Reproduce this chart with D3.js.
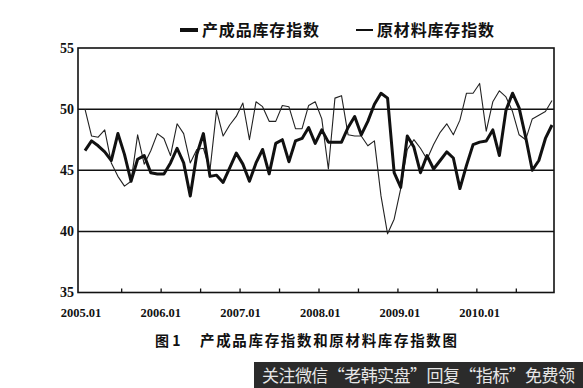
<!DOCTYPE html>
<html>
<head>
<meta charset="utf-8">
<script src="https://cdn.jsdelivr.net/npm/d3@7"></script>
<style>
  body { margin: 0; background: #fff; }
  svg { display: block; }
</style>
</head>
<body>
<div id="chart"></div>
<script>
// month labels shown on the x axis
const yearLabels = ["2005.01", "2006.01", "2007.01", "2008.01", "2009.01", "2010.01"];
const yTicks = [35, 40, 45, 50, 55];
const gridValues = [40, 45, 50];

// 产成品库存指数, 2005.01 - 2010.12
const finishedGoods = [
  46.6, 47.4, 47.0, 46.5, 45.8, 48.0, 46.3, 44.1, 45.9, 46.2, 44.8, 44.7,
  44.7, 45.6, 46.8, 45.6, 42.9, 46.3, 48.0, 44.5, 44.6, 44.0, 45.2, 46.4,
  45.5, 44.1, 45.6, 46.7, 44.7, 47.2, 47.5, 45.7, 47.4, 47.6, 48.5, 47.2,
  48.3, 47.3, 47.3, 47.3, 48.5, 49.4, 47.9, 49.0, 50.4, 51.3, 50.9, 44.8,
  43.6, 47.8, 46.9, 44.8, 46.2, 45.1, 45.8, 46.5, 46.0, 43.5, 45.4, 47.1,
  47.3, 47.4, 48.3, 46.2, 49.9, 51.3, 50.1, 47.7, 45.0, 45.8, 47.6, 48.7
];
// 原材料库存指数, 2005.01 - 2010.12
const rawMaterials = [
  50.0, 47.8, 47.7, 48.3, 45.6, 44.5, 43.7, 44.1, 47.9, 45.5, 46.6, 48.0,
  47.6, 46.2, 48.8, 48.0, 45.6, 46.7, 46.8, 45.0, 49.9, 47.8, 48.7, 49.4,
  50.5, 47.5, 50.6, 50.2, 49.0, 49.0, 50.3, 50.2, 48.4, 48.4, 50.3, 50.6,
  49.2, 45.1, 50.9, 51.1, 47.9, 47.8, 47.8, 47.0, 47.4, 42.9, 39.8, 41.0,
  43.5, 46.7, 47.5, 46.8, 45.9, 47.1, 48.1, 48.8, 47.9, 49.1, 51.3, 51.3,
  52.1, 48.2, 50.6, 51.5, 51.0, 49.8, 47.9, 47.5, 49.2, 49.5, 49.8, 50.7
];
const seriesNames = ["产成品库存指数", "原材料库存指数"];

const width = 583, height = 388;
const frame = {left: 78, right: 554, top: 48, bottom: 292.5};

const svg = d3.select("#chart")
  .append("svg")
  .attr("width", width)
  .attr("height", height);

const x = d3.scaleLinear()
  .domain([0, finishedGoods.length - 1])
  .range([85, 552]);

const y = d3.scaleLinear()
  .domain([35, 55])
  .range([frame.bottom, frame.top]);

// frame
svg.append("rect")
  .attr("x", frame.left)
  .attr("y", frame.top)
  .attr("width", frame.right - frame.left)
  .attr("height", frame.bottom - frame.top)
  .attr("fill", "none")
  .attr("stroke", "#111")
  .attr("stroke-width", 1.6);

// horizontal grid lines
svg.selectAll(".grid")
  .data(gridValues)
  .enter()
  .append("line")
  .attr("x1", frame.left)
  .attr("x2", frame.right)
  .attr("y1", d => y(d))
  .attr("y2", d => y(d))
  .attr("stroke", "#111")
  .attr("stroke-width", 1.5);

// y axis labels
const yAxis = d3.axisLeft(y)
  .tickValues(yTicks)
  .tickSize(0)
  .tickPadding(4);
const yg = svg.append("g")
  .attr("transform", "translate(" + frame.left + ",0)")
  .call(yAxis);
yg.select(".domain").remove();
yg.selectAll("text")
  .attr("font-family", "Liberation Serif, serif")
  .attr("font-weight", "bold")
  .attr("font-size", 14)
  .attr("fill", "#111");

// x axis: small ticks every half year, labels at each january
const halfYears = d3.range(5.5, finishedGoods.length - 1, 6);
const xAxis = d3.axisTop(x)
  .tickValues(halfYears)
  .tickSize(4)
  .tickFormat("");
const xg = svg.append("g")
  .attr("transform", "translate(0," + frame.bottom + ")")
  .call(xAxis);
xg.select(".domain").remove();
xg.selectAll("line").attr("stroke", "#111").attr("stroke-width", 1.3);

svg.selectAll(".xlabel")
  .data(yearLabels)
  .enter()
  .append("text")
  .attr("x", (d, i) => x(i * 12) - 4 + i * 0.8)
  .attr("y", 317)
  .attr("text-anchor", "middle")
  .attr("font-family", "Liberation Serif, serif")
  .attr("font-weight", "bold")
  .attr("font-size", 12.5)
  .attr("fill", "#111")
  .text(d => d);

// the two lines
const line = d3.line()
  .x((d, i) => x(i))
  .y(d => y(d));

svg.append("path")
  .datum(rawMaterials)
  .attr("d", line)
  .attr("fill", "none")
  .attr("stroke", "#222")
  .attr("stroke-width", 1.1)
  .attr("stroke-linejoin", "round");

svg.append("path")
  .datum(finishedGoods)
  .attr("d", line)
  .attr("fill", "none")
  .attr("stroke", "#111")
  .attr("stroke-width", 3)
  .attr("stroke-linejoin", "round");

// legend
const legendItems = [
  {name: seriesNames[0], x1: 180, x2: 198, w: 4},
  {name: seriesNames[1], x1: 356, x2: 373, w: 2}
];
legendItems.forEach(function(item) {
  svg.append("line")
    .attr("x1", item.x1)
    .attr("x2", item.x2)
    .attr("y1", 30)
    .attr("y2", 30)
    .attr("stroke", "#111")
    .attr("stroke-width", item.w);
  svg.append("text")
    .attr("x", item.x2 + 4)
    .attr("y", 36)
    .attr("font-family", "Noto Sans CJK SC, sans-serif")
    .attr("font-weight", "bold")
    .attr("font-size", 16)
    .attr("textLength", 117)
    .attr("fill", "#111")
    .text(item.name);
});

// caption
svg.append("text")
  .attr("x", 155)
  .attr("y", 346)
  .attr("font-family", "Noto Sans CJK SC, sans-serif")
  .attr("font-weight", "bold")
  .attr("font-size", 14)
  .attr("fill", "#111")
  .text("图 1");
svg.append("text")
  .attr("x", 200)
  .attr("y", 346)
  .attr("font-family", "Noto Sans CJK SC, sans-serif")
  .attr("font-weight", "bold")
  .attr("font-size", 14.5)
  .attr("textLength", 257)
  .attr("fill", "#111")
  .text("产成品库存指数和原材料库存指数图");

// watermark box
svg.append("rect")
  .attr("x", 254)
  .attr("y", 362)
  .attr("width", width - 254)
  .attr("height", height - 362)
  .attr("fill", "#2b2b2b");
svg.append("text")
  .attr("x", 262)
  .attr("y", 382)
  .attr("font-family", "Noto Sans CJK SC, sans-serif")
  .attr("font-size", 17)
  .attr("textLength", 313)
  .attr("fill", "#e6e6e6")
  .text("关注微信“老韩实盘”回复“指标”免费领");
</script>
</body>
</html>
